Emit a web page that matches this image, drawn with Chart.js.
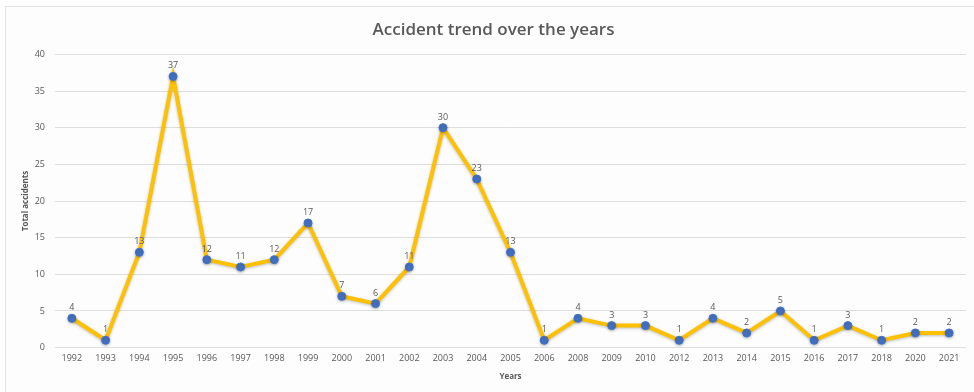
<!DOCTYPE html>
<html>
<head>
<meta charset="utf-8">
<script src="https://cdn.jsdelivr.net/npm/chart.js@4.4.1/dist/chart.umd.min.js"></script>
<style>
  html, body { margin: 0; padding: 0; background: #ffffff; }
  #wrap { position: relative; width: 974px; height: 392px; overflow: hidden; }
  #frame { position: absolute; left: 5px; top: 6px; width: 990px; height: 400px;
           border-left: 1px solid #e2e2e2; border-top: 1px solid #e2e2e2; background: #fdfdfd; }
  canvas { position: absolute; left: 0; top: 0; }
</style>
</head>
<body>
<div id="wrap">
  <div id="frame"></div>
  <canvas id="accidentChart" width="974" height="392"></canvas>
</div>
<script>
// Podaci - godine i broj nesreca
const years = ['1992', '1993', '1994', '1995', '1996', '1997', '1998', '1999', '2000', '2001',
               '2002', '2003', '2004', '2005', '2006', '2008', '2009', '2010', '2012', '2013',
               '2014', '2015', '2016', '2017', '2018', '2020', '2021'];
const totalAccidents = [4, 1, 13, 37, 12, 11, 12, 17, 7, 6,
                        11, 30, 23, 13, 1, 4, 3, 3, 1, 4,
                        2, 5, 1, 3, 1, 2, 2];
const yTicks = [0, 5, 10, 15, 20, 25, 30, 35, 40];

const textGray = '#595959';

// Jednostavan plugin za oznake iznad tacaka
const pointLabels = {
    id: 'pointLabels',
    afterDatasetsDraw(chart) {
        const ctx = chart.ctx;
        const meta = chart.getDatasetMeta(0);
        ctx.save();
        ctx.font = '9px "Open Sans", sans-serif';
        ctx.fillStyle = textGray;
        ctx.textAlign = 'center';
        ctx.textBaseline = 'bottom';
        meta.data.forEach((pt, i) => {
            ctx.fillText(String(totalAccidents[i]), pt.x, pt.y - 6);
        });
        ctx.restore();
    }
};

// Senka ispod linije
const lineShadow = {
    id: 'lineShadow',
    beforeDatasetDraw(chart) {
        const ctx = chart.ctx;
        ctx.save();
        ctx.shadowColor = 'rgba(0,0,0,0.25)';
        ctx.shadowBlur = 3;
        ctx.shadowOffsetY = 1;
    },
    afterDatasetDraw(chart) {
        chart.ctx.restore();
    }
};

const ctx = document.getElementById('accidentChart').getContext('2d');
new Chart(ctx, {
    type: 'line',
    data: {
        labels: years,
        datasets: [{
            label: 'Total accidents',
            data: totalAccidents,
            borderColor: '#FFC000',
            borderWidth: 4,
            pointBackgroundColor: '#4472C4',
            pointBorderColor: '#4472C4',
            pointRadius: 4,
            pointBorderWidth: 1,
            tension: 0
        }]
    },
    options: {
        responsive: false,
        animation: false,
        layout: { padding: { left: 21, right: 8, top: 6, bottom: 10 } },
        plugins: {
            legend: { display: false },
            tooltip: { enabled: false },
            title: {
                display: true,
                text: 'Accident trend over the years',
                color: textGray,
                font: { family: '"Open Sans", sans-serif', size: 17, weight: '600' },
                padding: { top: 14, bottom: 14 }
            }
        },
        scales: {
            x: {
                offset: true,
                grid: { display: false, drawTicks: false },
                border: { display: false },
                ticks: {
                    color: textGray,
                    font: { family: '"Open Sans", sans-serif', size: 9 },
                    maxRotation: 0,
                    autoSkip: false,
                    padding: 5
                },
                title: {
                    display: true,
                    text: 'Years',
                    color: textGray,
                    font: { family: '"Open Sans", sans-serif', size: 8, weight: 'bold' },
                    padding: { top: 4, bottom: 0 }
                }
            },
            y: {
                min: 0,
                max: 40,
                afterBuildTicks(scale) {
                    scale.ticks = yTicks.map(v => ({ value: v }));
                },
                afterFit(scale) { scale.width = 34; },
                grid: { color: '#dedede', lineWidth: 1, drawTicks: false },
                border: { display: false },
                ticks: {
                    color: textGray,
                    font: { family: '"Open Sans", sans-serif', size: 9 },
                    padding: 10
                },
                title: {
                    display: true,
                    text: 'Total accidents',
                    color: textGray,
                    font: { family: '"Open Sans", sans-serif', size: 8, weight: 'bold' },
                    padding: { top: 0, bottom: 0 }
                }
            }
        }
    },
    plugins: [lineShadow, pointLabels]
});
</script>
</body>
</html>
